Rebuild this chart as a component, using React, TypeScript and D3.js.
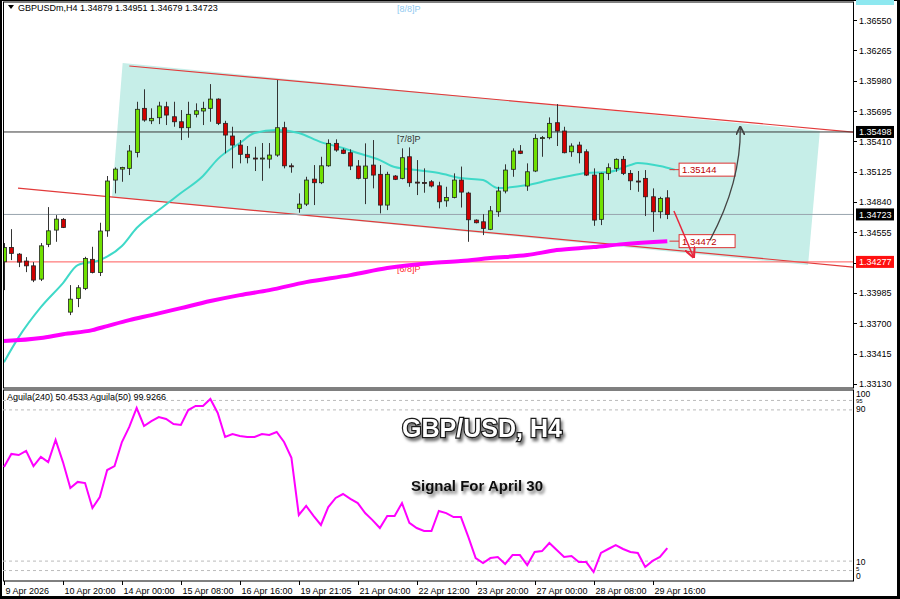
import React, { useEffect, useRef } from 'react'
import * as d3 from 'd3'

// GBPUSDm H4 candles
const opens = [
    1.34278, 1.34413, 1.34350, 1.34285, 1.34240, 1.34115, 1.34442, 1.34576, 1.34677, 1.33805,
    1.33934, 1.34028, 1.34301, 1.34178, 1.34569, 1.35046, 1.35149, 1.35156, 1.35306, 1.35720,
    1.35603, 1.35632, 1.35735, 1.35641, 1.35594, 1.35538, 1.35664, 1.35695, 1.35720, 1.35807,
    1.35579, 1.35460, 1.35375, 1.35288, 1.35253, 1.35250, 1.35243, 1.35281, 1.35538, 1.35180,
    1.34780, 1.34820, 1.35055, 1.35021, 1.35180, 1.35391, 1.35328, 1.35303, 1.35178, 1.35062,
    1.35187, 1.35100, 1.34811, 1.35084, 1.35062, 1.35265, 1.35027, 1.35024, 1.35030, 1.34992,
    1.34851, 1.34883, 1.35046, 1.34924, 1.34670, 1.34654, 1.34583, 1.34748, 1.34943, 1.35147,
    1.35319, 1.34990, 1.35131, 1.35444, 1.35444, 1.35585, 1.35507, 1.35312, 1.35375, 1.35312,
    1.35093, 1.34677, 1.35109, 1.35156, 1.35241, 1.35109, 1.35037, 1.35062, 1.34889, 1.34748,
    1.34879]
const highs = [
    1.34454, 1.34585, 1.34360, 1.34322, 1.34275, 1.34454, 1.34792, 1.34717, 1.34689, 1.34059,
    1.34059, 1.34325, 1.34419, 1.34645, 1.35084, 1.35165, 1.35171, 1.35375, 1.35782, 1.35899,
    1.35720, 1.35782, 1.35782, 1.35782, 1.35704, 1.35782, 1.35767, 1.35782, 1.35948, 1.35814,
    1.35603, 1.35547, 1.35422, 1.35366, 1.35359, 1.35394, 1.35394, 1.35986, 1.35594, 1.35203,
    1.34921, 1.35077, 1.35187, 1.35265, 1.35429, 1.35429, 1.35344, 1.35335, 1.35234, 1.35391,
    1.35422, 1.35187, 1.35124, 1.35093, 1.35344, 1.35353, 1.35234, 1.35156, 1.35046, 1.35030,
    1.34983, 1.35109, 1.35173, 1.34936, 1.34677, 1.34726, 1.34802, 1.34983, 1.35194, 1.35344,
    1.35375, 1.35203, 1.35478, 1.35460, 1.35635, 1.35760, 1.35547, 1.35391, 1.35406, 1.35335,
    1.35156, 1.35115, 1.35203, 1.35250, 1.35272, 1.35140, 1.35131, 1.35140, 1.34968, 1.34889,
    1.34951]
const lows = [
    1.34012, 1.34294, 1.34228, 1.34181, 1.34087, 1.34097, 1.34416, 1.34466, 1.34595, 1.33777,
    1.33852, 1.34012, 1.34169, 1.34144, 1.34513, 1.34921, 1.35030, 1.35093, 1.35259, 1.35594,
    1.35572, 1.35572, 1.35563, 1.35547, 1.35422, 1.35444, 1.35635, 1.35563, 1.35594, 1.35563,
    1.35297, 1.35156, 1.35203, 1.35203, 1.35131, 1.35039, 1.35156, 1.35265, 1.35156, 1.35115,
    1.34739, 1.34802, 1.34811, 1.35008, 1.35171, 1.35312, 1.35290, 1.35140, 1.35053, 1.34820,
    1.34968, 1.34733, 1.34764, 1.35046, 1.35053, 1.34983, 1.34905, 1.34927, 1.34977, 1.34780,
    1.34795, 1.34874, 1.34788, 1.34466, 1.34639, 1.34529, 1.34576, 1.34701, 1.34921, 1.35077,
    1.35290, 1.34945, 1.35121, 1.35265, 1.35429, 1.35366, 1.35297, 1.35265, 1.35203, 1.35084,
    1.34616, 1.34623, 1.35046, 1.35124, 1.35093, 1.34952, 1.34936, 1.34708, 1.34560, 1.34686,
    1.34679]
const closes = [
    1.34413, 1.34357, 1.34275, 1.34240, 1.34106, 1.34428, 1.34569, 1.34679, 1.34601, 1.33927,
    1.34034, 1.34310, 1.34178, 1.34567, 1.35037, 1.35149, 1.35165, 1.35319, 1.35711, 1.35610,
    1.35626, 1.35742, 1.35657, 1.35594, 1.35538, 1.35664, 1.35697, 1.35720, 1.35807, 1.35579,
    1.35469, 1.35375, 1.35288, 1.35256, 1.35247, 1.35253, 1.35281, 1.35538, 1.35180, 1.35178,
    1.34820, 1.35046, 1.35021, 1.35180, 1.35391, 1.35328, 1.35297, 1.35178, 1.35062, 1.35178,
    1.35093, 1.34811, 1.35100, 1.35053, 1.35256, 1.35021, 1.35022, 1.35022, 1.34990, 1.34842,
    1.34883, 1.35046, 1.34933, 1.34673, 1.34645, 1.34592, 1.34757, 1.34943, 1.35140, 1.35319,
    1.35297, 1.35124, 1.35438, 1.35445, 1.35579, 1.35507, 1.35303, 1.35366, 1.35303, 1.35093,
    1.34670, 1.35109, 1.35162, 1.35241, 1.35109, 1.35039, 1.35034, 1.34889, 1.34748, 1.34874,
    1.34723]

const timeLabels = ['9 Apr 2026', '10 Apr 20:00', '14 Apr 00:00', '15 Apr 08:00', '16 Apr 16:00', '19 Apr 21:05',
    '21 Apr 04:00', '22 Apr 12:00', '23 Apr 20:00', '27 Apr 00:00', '28 Apr 08:00', '29 Apr 16:00']
const timeLabelBars = [0, 8, 16, 24, 32, 40, 48, 56, 64, 72, 80, 88]

const priceTicks = [1.36550, 1.36265, 1.35980, 1.35695, 1.35410, 1.35125, 1.34840, 1.34555, 1.34270,
    1.33985, 1.33700, 1.33415, 1.33130]

// moving averages (bar index -> value)
const fastMaBars = [0, 2, 5, 8, 10, 13, 16, 18, 21, 24, 27, 29, 32, 34, 37, 40, 43, 46, 48, 51, 53, 56, 59, 62,
    65, 67, 71, 74, 76, 79, 82, 85, 86, 89, 91]
const fastMaValues = [1.33335, 1.33570, 1.33852, 1.34078, 1.34247, 1.34294, 1.34426, 1.34595, 1.34764, 1.34924,
    1.35084, 1.35243, 1.35394, 1.35488, 1.35516, 1.35488, 1.35403, 1.35347, 1.35300, 1.35234, 1.35168, 1.35140,
    1.35112, 1.35065, 1.35046, 1.34971, 1.34999, 1.35046, 1.35074, 1.35112, 1.35121, 1.35187, 1.35206, 1.35178,
    1.35144]
const slowMaBars = [0, 5, 8, 12, 14, 17, 20, 24, 28, 32, 36, 41, 47, 52, 58, 62, 66, 71, 75, 80, 84, 90]
const slowMaValues = [1.33533, 1.33561, 1.33598, 1.33636, 1.33674, 1.33730, 1.33777, 1.33843, 1.33909, 1.33965,
    1.34012, 1.34087, 1.34153, 1.34219, 1.34266, 1.34285, 1.34313, 1.34341, 1.34388, 1.34416, 1.34444, 1.34472]

const aguila = [
    59.8, 66.7, 66.1, 68.3, 60.3, 65.1, 62.4, 74.1, 62.4, 48.7,
    51.9, 51.3, 38.1, 43.9, 58.2, 60.3, 73.0, 81.0, 91.0, 81.5,
    84.1, 86.2, 85.2, 82.5, 82.0, 89.9, 92.1, 92.1, 95.8, 88.4,
    75.7, 77.2, 76.2, 75.7, 75.7, 77.2, 76.7, 78.3, 73.0, 64.6,
    34.4, 39.2, 33.9, 29.1, 38.6, 43.4, 45.5, 42.9, 40.7, 35.4,
    31.7, 27.5, 33.9, 33.9, 40.7, 30.2, 27.5, 25.9, 25.9, 36.5,
    35.4, 33.3, 33.3, 22.8, 11.6, 9.0, 11.6, 12.2, 8.5, 13.2,
    13.2, 7.9, 14.8, 15.3, 19.6, 15.9, 12.2, 12.7, 9.5, 9.5,
    4.2, 14.3, 16.4, 18.5, 16.4, 14.8, 14.3, 6.9, 10.1, 12.2,
    16.9]
const aguilaLevels = [95, 90, 10, 5]
const aguilaTicks = [100, 95, 90, 10, 5, 0]

const murrayLevels = [1.36719, 1.35498, 1.34277]
const murrayNames = ['[8/8]P', '[7/8]P', '[6/8]P']
const bid = 1.34723

// hand drawn objects, in (bar, price)
const channelTop = [[17, 1.36118], [115.2, 1.35497]]
const channelBottom = [[1.9, 1.34971], [115.2, 1.34228]]
const channelBox = [[16.1, 1.36146], [110.7, 1.35507], [109.1, 1.34247], [14.65, 1.34886]]
const downArrow = [[90.9, 1.34755], [93.5, 1.34332]]
const upArrow = [[95.8, 1.34482], [100, 1.35027], [99.9, 1.35535]]

export default function App() {
    const ref = useRef<SVGSVGElement | null>(null)

    const width = 900
    const height = 599
    var left = 3, right = 853
    var mainTop = 2, mainBottom = 388
    var subTop = 390, subBottom = 581
    var font = 'Liberation Sans, Arial, sans-serif'

    function drawChart() {
        var svg = d3.select(ref.current)
        svg.selectAll('*').remove()
        svg.attr('width', width).attr('height', height)
            .style('position', 'absolute').style('left', '0px').style('top', '0px')
            .style('font-family', font)

        var x = d3.scaleLinear().domain([0, 90]).range([4, 667.3])
        var y = d3.scaleLinear().domain([1.33092, 1.36710]).range([388, 3])
        var ys = d3.scaleLinear().domain([0, 100]).range([580, 391])

        var defs = svg.append('defs')
        defs.append('clipPath').attr('id', 'mainClip').append('rect')
            .attr('x', left).attr('y', mainTop).attr('width', right - left).attr('height', mainBottom - mainTop)
        defs.append('clipPath').attr('id', 'subClip').append('rect')
            .attr('x', left).attr('y', subTop).attr('width', right - left).attr('height', subBottom - subTop)
        var sh = defs.append('filter').attr('id', 'shadow').attr('x', '-10%').attr('y', '-30%')
            .attr('width', '130%').attr('height', '170%')
        sh.append('feDropShadow').attr('dx', 2).attr('dy', 3).attr('stdDeviation', 1.6)
            .attr('flood-color', '#000').attr('flood-opacity', 0.55)

        // frame
        svg.append('rect').attr('width', width).attr('height', height).attr('fill', '#000')
        svg.append('rect').attr('x', 2).attr('y', 1).attr('width', 895).attr('height', 595).attr('fill', '#fff')

        var main = svg.append('g').attr('clip-path', 'url(#mainClip)')

        // channel
        main.append('path')
            .attr('d', d3.line()(channelBox.map(p => [x(p[0]), y(p[1])]) as any) + 'Z')
            .attr('fill', '#c6eee8')
        ;[channelTop, channelBottom].forEach(function (l) {
            main.append('line')
                .attr('x1', x(l[0][0])).attr('y1', y(l[0][1]))
                .attr('x2', x(l[1][0])).attr('y2', y(l[1][1]))
                .attr('stroke', '#e23a3a').attr('stroke-width', 1.2)
        })

        // horizontal levels
        main.append('line').attr('x1', left).attr('x2', right)
            .attr('y1', y(murrayLevels[1])).attr('y2', y(murrayLevels[1]))
            .attr('stroke', '#3a3a3a').attr('stroke-width', 1)
        main.append('line').attr('x1', left).attr('x2', right)
            .attr('y1', y(bid)).attr('y2', y(bid))
            .attr('stroke', '#98a4ae').attr('stroke-width', 1)
        main.append('line').attr('x1', left).attr('x2', right)
            .attr('y1', y(murrayLevels[2])).attr('y2', y(murrayLevels[2]))
            .attr('stroke', '#ff5a5a').attr('stroke-width', 1)
        var mColors = ['#8fc8f0', '#333', '#ff3030']
        murrayNames.forEach(function (n, i) {
            main.append('text').attr('x', 397).attr('y', y(murrayLevels[i]) + 10)
                .attr('font-size', 9).attr('fill', mColors[i]).text(n)
        })

        // moving averages
        var line = d3.line<number>().curve(d3.curveMonotoneX)
        main.append('path')
            .attr('d', line.x((d, i) => x(fastMaBars[i])).y(d => y(d))(fastMaValues))
            .attr('fill', 'none').attr('stroke', '#3fd9c8').attr('stroke-width', 2)
        main.append('path')
            .attr('d', d3.line<number>().curve(d3.curveMonotoneX).x((d, i) => x(slowMaBars[i])).y(d => y(d))(slowMaValues))
            .attr('fill', 'none').attr('stroke', '#ff00ff').attr('stroke-width', 4)

        // candles
        var bars = main.selectAll('g.bar').data(opens).enter().append('g').attr('class', 'bar')
        bars.append('line')
            .attr('x1', (d, i) => Math.round(x(i)) + 0.5).attr('x2', (d, i) => Math.round(x(i)) + 0.5)
            .attr('y1', (d, i) => y(highs[i])).attr('y2', (d, i) => y(lows[i]))
            .attr('stroke', '#333').attr('stroke-width', 1)
        bars.append('rect')
            .attr('x', (d, i) => Math.round(x(i)) - 1.5)
            .attr('y', (d, i) => y(Math.max(d, closes[i])))
            .attr('width', 4)
            .attr('height', (d, i) => Math.max(1, Math.abs(y(d) - y(closes[i]))))
            .attr('fill', (d, i) => closes[i] >= d ? '#6fe000' : '#d00000')
            .attr('stroke', '#222').attr('stroke-width', 0.8)

        // value labels at MA ends
        var maLabels = [fastMaValues[fastMaValues.length - 1], slowMaValues[slowMaValues.length - 1]]
        maLabels.forEach(function (v) {
            main.append('line').attr('x1', x(90.3)).attr('x2', x(91.6))
                .attr('y1', y(v)).attr('y2', y(v)).attr('stroke', '#d33').attr('stroke-width', 1)
            main.append('rect').attr('x', x(91.6)).attr('y', y(v) - 6.5).attr('width', 56).attr('height', 13)
                .attr('fill', '#fff').attr('stroke', '#d33').attr('stroke-width', 1)
            main.append('text').attr('x', x(91.6) + 3).attr('y', y(v) + 3.5)
                .attr('font-size', 9.5).attr('fill', '#b00').text(v.toFixed(5))
        })

        // arrows
        defs.append('marker').attr('id', 'redHead').attr('viewBox', '0 0 10 10').attr('refX', 8).attr('refY', 5)
            .attr('markerWidth', 7).attr('markerHeight', 7).attr('orient', 'auto')
            .append('path').attr('d', 'M0,0L10,5L0,10').attr('fill', 'none').attr('stroke', '#e8263c').attr('stroke-width', 2)
        defs.append('marker').attr('id', 'grayHead').attr('viewBox', '0 0 10 10').attr('refX', 8).attr('refY', 5)
            .attr('markerWidth', 7).attr('markerHeight', 7).attr('orient', 'auto')
            .append('path').attr('d', 'M0,0L10,5L0,10').attr('fill', 'none').attr('stroke', '#444').attr('stroke-width', 2)
        main.append('line')
            .attr('x1', x(downArrow[0][0])).attr('y1', y(downArrow[0][1]))
            .attr('x2', x(downArrow[1][0])).attr('y2', y(downArrow[1][1]))
            .attr('stroke', '#e8263c').attr('stroke-width', 1.5).attr('marker-end', 'url(#redHead)')
        var up = d3.path()
        up.moveTo(x(upArrow[0][0]), y(upArrow[0][1]))
        up.quadraticCurveTo(x(upArrow[1][0]), y(upArrow[1][1]), x(upArrow[2][0]), y(upArrow[2][1]))
        main.append('path').attr('d', up.toString()).attr('fill', 'none')
            .attr('stroke', '#444').attr('stroke-width', 1.3).attr('marker-end', 'url(#grayHead)')

        // header
        svg.append('path').attr('d', 'M8,5L14,5L11,9Z').attr('fill', '#000')
        svg.append('text').attr('x', 18).attr('y', 11).attr('font-size', 9).attr('fill', '#000')
            .text('GBPUSDm,H4  ' + [opens[90], highs[90], lows[90], closes[90]].map(v => v.toFixed(5)).join(' '))

        // panel borders
        svg.append('rect').attr('x', left + 0.5).attr('y', mainTop).attr('width', right - left).attr('height', mainBottom - mainTop)
            .attr('fill', 'none').attr('stroke', '#000').attr('stroke-width', 1)
        svg.append('rect').attr('x', left + 0.5).attr('y', subTop).attr('width', right - left).attr('height', subBottom - subTop)
            .attr('fill', 'none').attr('stroke', '#000').attr('stroke-width', 1)

        // right price axis
        var axis = svg.append('g')
        priceTicks.forEach(function (p) {
            axis.append('line').attr('x1', right).attr('x2', right + 4).attr('y1', Math.round(y(p)) + 0.5)
                .attr('y2', Math.round(y(p)) + 0.5).attr('stroke', '#000')
            axis.append('text').attr('x', right + 6).attr('y', y(p) + 3.5).attr('font-size', 9).attr('fill', '#000')
                .text(p.toFixed(5))
        })
        // [8/8] label sits above the top edge, only its box peeks in
        axis.append('rect').attr('x', right + 3).attr('y', -7).attr('width', 38).attr('height', 12).attr('fill', '#8ee8f0')
        var boxes = [[murrayLevels[1], '#000', '#fff'], [bid, '#000', '#fff'], [murrayLevels[2], '#ff1010', '#fff']]
        boxes.forEach(function (b: any) {
            var yy = y(b[0])
            axis.append('rect').attr('x', right + 3).attr('y', yy - 6).attr('width', 38).attr('height', 12).attr('fill', b[1])
            axis.append('text').attr('x', right + 6).attr('y', yy + 3.5).attr('font-size', 9).attr('fill', b[2])
                .text(b[0].toFixed(5))
        })

        // lower panel
        var sub = svg.append('g').attr('clip-path', 'url(#subClip)')
        aguilaLevels.forEach(function (v) {
            sub.append('line').attr('x1', left).attr('x2', right).attr('y1', ys(v)).attr('y2', ys(v))
                .attr('stroke', '#bbb').attr('stroke-dasharray', '3,3').attr('stroke-width', 1)
        })
        sub.append('path')
            .attr('d', d3.line<number>().x((d, i) => x(i)).y(d => ys(d))(aguila))
            .attr('fill', 'none').attr('stroke', '#ff00ff').attr('stroke-width', 2)
        sub.append('text').attr('x', 7).attr('y', subTop + 10).attr('font-size', 9).attr('fill', '#000')
            .text('Aguila(240) 50.4533  Aguila(50) 99.9266')

        svg.append('text').attr('x', 482).attr('y', 437).attr('text-anchor', 'middle')
            .attr('font-size', 25).attr('font-weight', 'bold').attr('fill', '#fff')
            .attr('stroke', '#1a1a1a').attr('stroke-width', 2.4).attr('paint-order', 'stroke')
            .attr('filter', 'url(#shadow)').text('GBP/USD, H4')
        svg.append('text').attr('x', 477).attr('y', 491).attr('text-anchor', 'middle')
            .attr('font-size', 15).attr('font-weight', 'bold').attr('fill', '#111')
            .attr('filter', 'url(#shadow)').text('Signal For April 30')

        // indicator scale, small labels squeezed like the terminal does
        var subLabelY: any = { 100: 397, 95: 403, 90: 412, 10: 565, 5: 571, 0: 579 }
        aguilaTicks.forEach(function (v) {
            var small = v === 95 || v === 5
            svg.append('text').attr('x', right + 3).attr('y', subLabelY[v])
                .attr('font-size', small ? 6 : 8.5).attr('fill', '#000').text(v)
        })

        // time axis
        timeLabelBars.forEach(function (b, i) {
            var xx = Math.round(x(b)) + 0.5
            svg.append('line').attr('x1', xx).attr('x2', xx).attr('y1', subBottom).attr('y2', subBottom + 4).attr('stroke', '#000')
            svg.append('text').attr('x', xx + 1).attr('y', 594).attr('font-size', 9).attr('fill', '#000').text(timeLabels[i])
        })
    }

    useEffect(() => {
        drawChart()
    }, [])

    return (
        <div>
            <svg ref={ref} />
        </div>
    )
}
